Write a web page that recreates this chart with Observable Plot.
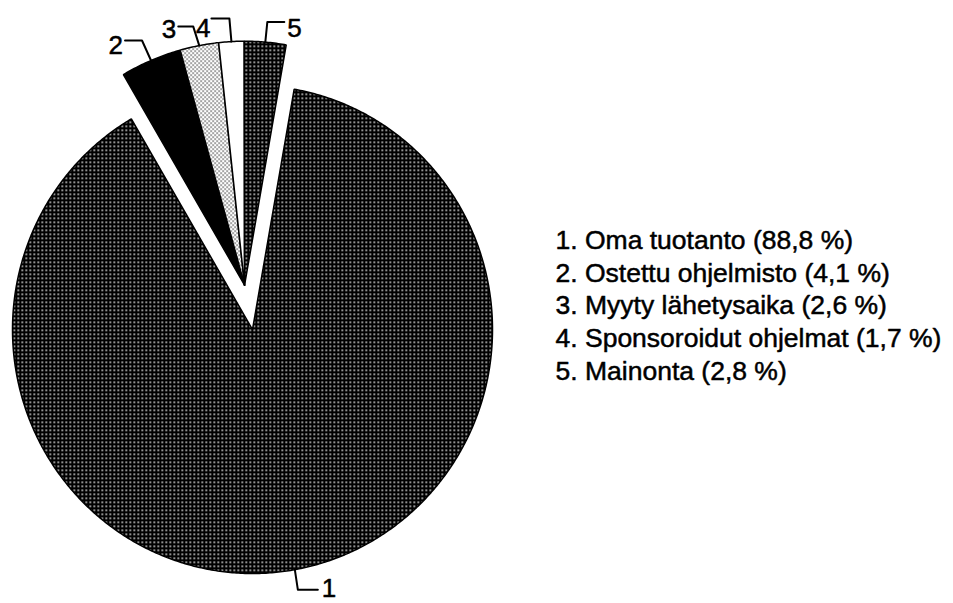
<!DOCTYPE html>
<html>
<head>
<meta charset="utf-8">
<script src="https://cdn.jsdelivr.net/npm/d3@7"></script>
<script src="https://cdn.jsdelivr.net/npm/@observablehq/plot@0.6"></script>
<style>
  html, body { margin: 0; padding: 0; background: #fff; }
  #chart { width: 953px; height: 603px; }
  svg { font-family: "Liberation Sans", Arial, Helvetica, sans-serif; }
</style>
</head>
<body>
<div id="chart"></div>
<script>
// ---- data ----
const sliceNumbers = ["1", "2", "3", "4", "5"];
const categories = ["Oma tuotanto", "Ostettu ohjelmisto", "Myyty lähetysaika", "Sponsoroidut ohjelmat", "Mainonta"];
const shares = [88.8, 4.1, 2.6, 1.7, 2.8];
const shareLabels = ["88,8 %", "4,1 %", "2,6 %", "1,7 %", "2,8 %"];

// ---- styles / layout ----
const fills = ["url(#dotDark)", "#000", "url(#dotLight)", "#fff", "url(#dotDark)"];
const exploded = [false, true, true, true, true];
const startDeg = 10;          // slice 1 starts 10° clockwise from top
const cx = 252, cy = 329, rx = 240, ry = 244, explodePx = 45;
// leader offsets in px (y downwards) relative to the arc midpoint: elbow, end, label
const leaderLayout = [
  {elbow: [3, 20], end: [23, 20], label: [4, 7], anchor: "start"},
  {elbow: [-9, -20], end: [-26, -20], label: [-2, 13], anchor: "end"},
  {elbow: [-6, -19], end: [-21, -19], label: [-2, 11], anchor: "end"},
  {elbow: [-2, -23], end: [-20, -23], label: [-1, 18], anchor: "end"},
  {elbow: [2, -20], end: [19, -20], label: [3, 15], anchor: "start"}
];
const textStyle = {fontSize: 26, fill: "#000", stroke: "#000", strokeWidth: 0.5};

// ---- geometry from data ----
const total = d3.sum(shares);
const rad = (d) => d * Math.PI / 180;
let acc = startDeg;
const slices = shares.map((v, i) => {
  const span = v / total * 360;
  const s = {i, a0: acc, a1: acc + span};
  acc += span;
  return s;
});
const exp = slices.filter((s) => exploded[s.i]);
const bis = rad((exp[0].a0 + exp[exp.length - 1].a1) / 2);
const ox = explodePx * Math.sin(bis) / rx;
const oy = explodePx * Math.cos(bis) / ry;

const marks = [];
slices.forEach((s) => {
  const dx = exploded[s.i] ? ox : 0, dy = exploded[s.i] ? oy : 0;
  const pts = [{x: dx, y: dy}];
  const n = Math.max(4, Math.ceil((s.a1 - s.a0) / 0.5));
  for (let k = 0; k <= n; k++) {
    const t = rad(s.a0 + (s.a1 - s.a0) * k / n);
    pts.push({x: dx + Math.sin(t), y: dy + Math.cos(t)});
  }
  pts.push({x: dx, y: dy});
  s.dx = dx; s.dy = dy;
  marks.push(Plot.line(pts, {x: "x", y: "y", fill: fills[s.i], stroke: "#000", strokeWidth: 1.5, strokeLinejoin: "miter"}));
});

// leaders
const labelPts = [];
slices.forEach((s) => {
  const m = rad((s.a0 + s.a1) / 2);
  const x0 = s.dx + Math.sin(m), y0 = s.dy + Math.cos(m);
  const L = leaderLayout[s.i];
  const P = (o) => ({x: x0 + o[0] / rx, y: y0 - o[1] / ry});
  const e = P(L.elbow), f = P(L.end);
  marks.push(Plot.line([{x: x0, y: y0}, e, f], {x: "x", y: "y", stroke: "#000", strokeWidth: 2}));
  labelPts.push({x: f.x + L.label[0] / rx, y: f.y - L.label[1] / ry, text: sliceNumbers[s.i], anchor: L.anchor});
});
marks.push(Plot.text(labelPts.filter((d) => d.anchor === "start"), {x: "x", y: "y", text: "text", textAnchor: "start", lineAnchor: "bottom", ...textStyle}));
marks.push(Plot.text(labelPts.filter((d) => d.anchor === "end"), {x: "x", y: "y", text: "text", textAnchor: "end", lineAnchor: "bottom", ...textStyle}));

// legend
const legendText = categories.map((c, i) => `${sliceNumbers[i]}. ${c} (${shareLabels[i]})`).join("\n");
marks.push(Plot.text([legendText], {frameAnchor: "top-left", dx: 555, dy: 225, textAnchor: "start", lineAnchor: "top", lineHeight: 1.238, ...textStyle, fontSize: 26.5}));

const svg = Plot.plot({
  width: 953,
  height: 603,
  margin: 0,
  x: {domain: [-1, 1], range: [cx - rx, cx + rx], axis: null},
  y: {domain: [-1, 1], range: [cy + ry, cy - ry], axis: null},
  style: {background: "#fff", fontFamily: "'Liberation Sans', Arial, Helvetica, sans-serif"},
  marks
});

// texture patterns
const defs = d3.select(svg).insert("defs", ":first-child");
const dark = defs.append("pattern").attr("id", "dotDark").attr("patternUnits", "userSpaceOnUse").attr("width", 4).attr("height", 4);
dark.append("rect").attr("width", 4).attr("height", 4).attr("fill", "#000");
dark.append("rect").attr("x", 1).attr("y", 1).attr("width", 1.5).attr("height", 1.5).attr("fill", "#fff");
const light = defs.append("pattern").attr("id", "dotLight").attr("patternUnits", "userSpaceOnUse").attr("width", 4).attr("height", 4);
light.append("rect").attr("width", 4).attr("height", 4).attr("fill", "#fff");
light.append("rect").attr("x", 0).attr("y", 0).attr("width", 1.2).attr("height", 1.2).attr("fill", "#000");
light.append("rect").attr("x", 2).attr("y", 2).attr("width", 1.2).attr("height", 1.2).attr("fill", "#000");

document.getElementById("chart").appendChild(svg);
</script>
</body>
</html>
